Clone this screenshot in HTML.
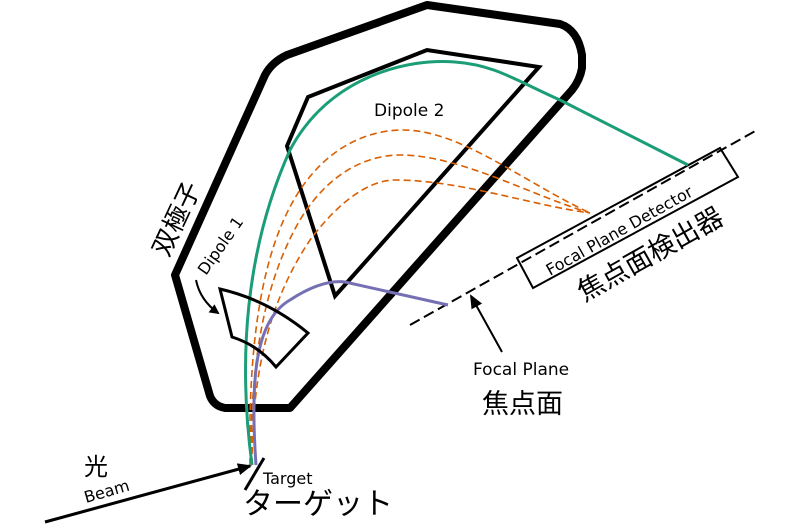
<!DOCTYPE html>
<html><head><meta charset="utf-8"><style>
html,body{margin:0;padding:0;background:#fff;}
svg{display:block;}
text{font-family:"DejaVu Sans","Liberation Sans",sans-serif;fill:#000;}
.cjk{font-family:"Noto Sans CJK JP","WenQuanYi Zen Hei",sans-serif;}
</style></head><body>
<svg width="800" height="525" viewBox="0 0 800 525" xmlns="http://www.w3.org/2000/svg">
<defs>
<marker id="ah" markerWidth="10" markerHeight="10" refX="8" refY="5" orient="auto" markerUnits="userSpaceOnUse">
<path d="M0,0 L10,5 L0,10 z" fill="#000"/></marker>
<marker id="ah2" markerWidth="14" markerHeight="12" refX="12" refY="6" orient="auto" markerUnits="userSpaceOnUse">
<path d="M0,0 L14,6 L0,12 z" fill="#000"/></marker>
</defs>
<path d="M175,275 L265,75 Q272,62 287,55 L427,5 L560,24 Q578,30 582,55 L582,68 Q580,80 572,90 L290,408 L225,408 Q214,406 210,396 Z" fill="none" stroke="#000" stroke-width="8" stroke-linejoin="round"/>
<path d="M287,146 L308,97 L427,50 L539,67 L335,296 Z" fill="none" stroke="#000" stroke-width="4" stroke-linejoin="miter"/>
<line x1="410" y1="325" x2="757" y2="130" stroke="#000" stroke-width="2" stroke-dasharray="11,5"/>
<path d="M517,258 L720,148 L738,177 L533,288 Z" fill="none" stroke="#000" stroke-width="2"/>
<g fill="none" stroke="#d95f02" stroke-width="1.6" stroke-dasharray="7,4">
<path d="M250,465 C248,350 260,250 300,190 C330,145 370,130 403,130 C460,130 520,180 590,213"/>
<path d="M251,465 C250,360 265,280 300,220 C330,170 370,155 400,155 C460,155 530,195 590,213"/>
<path d="M252,465 C252,370 270,300 310,240 C340,200 370,180 395,180 C460,180 530,205 590,213"/>
</g>
<path d="M252,465 C238,360 245,250 290,150 C330,75 410,58 455,62 C495,65 515,80 560,100 L688,165" fill="none" stroke="#1b9e77" stroke-width="3"/>
<path d="M256,465 C250,380 255,320 290,300 C310,287 328,280 345,282 L448,305" fill="none" stroke="#7570b3" stroke-width="3"/>
<path d="M220,289 Q268,300 308,333 L276,367 Q258,345 232,337 Z" fill="none" stroke="#000" stroke-width="3" stroke-linejoin="miter"/>
<path d="M196,280 Q200,300 218,313" fill="none" stroke="#000" stroke-width="2" marker-end="url(#ah)"/>
<line x1="502" y1="352" x2="471" y2="296" stroke="#000" stroke-width="2" marker-end="url(#ah2)"/>
<line x1="45" y1="522" x2="250" y2="466" stroke="#000" stroke-width="3" marker-end="url(#ah2)"/>
<line x1="245" y1="490" x2="264" y2="458" stroke="#000" stroke-width="3"/>
<text x="374" y="116" font-size="17">Dipole 2</text>
<text x="0" y="0" font-size="16" transform="translate(206,276) rotate(-55)">Dipole 1</text>
<text class="cjk" x="0" y="0" font-size="26" transform="translate(168,258) rotate(-65)">双極子</text>
<text x="0" y="0" font-size="16" transform="translate(550,276) rotate(-29.3)">Focal Plane Detector</text>
<text class="cjk" x="0" y="0" font-size="27" transform="translate(584,302) rotate(-29.3)">焦点面検出器</text>
<text x="473" y="375" font-size="17">Focal Plane</text>
<text class="cjk" x="482" y="413" font-size="27">焦点面</text>
<text class="cjk" x="84" y="475" font-size="24">光</text>
<text x="0" y="0" font-size="16" transform="translate(86,503) rotate(-16)">Beam</text>
<text x="263" y="484" font-size="16">Target</text>
<text class="cjk" x="243" y="514" font-size="30">ターゲット</text>
</svg>
</body></html>
